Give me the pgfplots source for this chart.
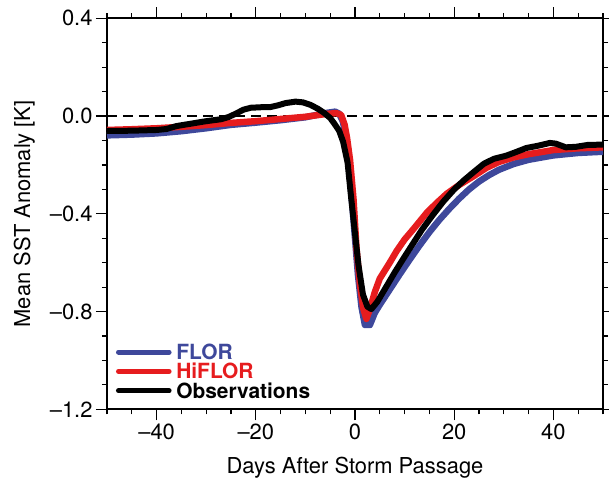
\documentclass[border=0pt]{standalone}
\usepackage{pgfplots}
\pgfplotsset{compat=1.18}
\usepackage{fontspec}
\setmainfont{TeX Gyre Heros}
\definecolor{florblue}{RGB}{62,72,155}
\definecolor{hiflorred}{RGB}{230,28,30}
\begin{document}
\begin{tikzpicture}
\begin{axis}[
  name=ax,
  scale only axis,
  width=496bp, height=391bp,
  xmin=-50, xmax=50, ymin=-1.2, ymax=0.4,
  axis line style={line width=2.2bp},
  tick align=outside,
  xtick pos=both, ytick pos=both,
  xtick={-40,-20,0,20,40},
  xticklabels={--40,--20,0,20,40},
  ytick={-1.2,-0.8,-0.4,0,0.4},
  yticklabels={--1.2,--0.8,--0.4,0.0,0.4},
  minor xtick={-50,-45,-35,-30,-25,-15,-10,-5,5,10,15,25,30,35,45,50},
  minor ytick={-1.1,-1.0,-0.9,-0.7,-0.6,-0.5,-0.3,-0.2,-0.1,0.1,0.2,0.3},
  major tick length=11bp,
  minor tick length=5bp,
  tick style={line width=1.2bp, black},
  font=\fontsize{22}{25}\selectfont,
  xlabel={Days After Storm Passage},
  ylabel={Mean SST Anomaly [K]},
  xlabel shift=11bp,
  ylabel shift=8bp,
  legend style={
    at={(0,0)}, anchor=south west, xshift=9bp, yshift=11bp,
    draw=none, fill=none, inner sep=0pt, outer sep=0pt,
    row sep=4.4bp, column sep=4.7bp,
    font=\fontsize{21}{24}\selectfont\bfseries,
    nodes={inner sep=0pt, text height=15bp, text depth=0pt},
  },
  legend cell align=left,
  legend image code/.code={\draw[#1, line width=5bp, line cap=round] (0bp,0bp) -- (50.6bp,0bp);},
]
\addplot[black, line width=1.3bp, dash pattern=on 10bp off 6bp, forget plot] coordinates {(-50,0) (50,0)};
\addplot[florblue, line width=6.5bp, line join=round] coordinates {
(-50,-0.079) (-45,-0.076) (-40,-0.071) (-35,-0.062) (-30,-0.050) (-25,-0.036) (-20,-0.027) (-15,-0.017) (-10,-0.005) (-6,0.012) (-4,0.018) (-3.2,0.010) (-2.5,-0.020) (-1.8,-0.080) (-1.2,-0.200) (-0.6,-0.350) (0,-0.500) (0.6,-0.650) (1.3,-0.780) (2,-0.855) (3,-0.855) (4,-0.805) (5,-0.772) (7,-0.710) (9,-0.648) (11,-0.588) (13,-0.530) (15,-0.475) (17,-0.425) (19,-0.380) (21,-0.338) (23,-0.300) (25,-0.268) (27,-0.242) (29,-0.220) (32,-0.196) (35,-0.179) (40,-0.161) (45,-0.151) (50,-0.146)
};
\addlegendentry{\textcolor{florblue}{FLOR}}
\addplot[hiflorred, line width=6.5bp, line join=round] coordinates {
(-50,-0.057) (-45,-0.054) (-40,-0.050) (-35,-0.044) (-30,-0.037) (-25,-0.028) (-20,-0.021) (-15,-0.012) (-10,-0.003) (-6,0.008) (-3.8,0.012) (-2.8,0.005) (-2.1,-0.035) (-1.6,-0.090) (-1.0,-0.180) (-0.3,-0.340) (0.3,-0.540) (1,-0.690) (1.7,-0.790) (2.3,-0.830) (3,-0.790) (4,-0.720) (5,-0.665) (7,-0.600) (8.4,-0.552) (10,-0.505) (11.8,-0.462) (14.5,-0.395) (16.5,-0.355) (18.5,-0.318) (21,-0.282) (24,-0.245) (26.5,-0.212) (29,-0.188) (32,-0.169) (35,-0.156) (40,-0.139) (45,-0.132) (50,-0.128)
};
\addlegendentry{\textcolor{hiflorred}{HiFLOR}}
\addplot[black, line width=6bp, line join=round] coordinates {
(-50,-0.061) (-45,-0.060) (-40,-0.057) (-38,-0.053) (-36,-0.041) (-33,-0.031) (-30,-0.021) (-27,-0.013) (-25.5,-0.004) (-24,0.010) (-22.5,0.026) (-21,0.034) (-19,0.036) (-17,0.037) (-15.5,0.044) (-14,0.053) (-12,0.059) (-10.5,0.056) (-9,0.046) (-7.5,0.030) (-6.3,0.014) (-5,-0.008) (-4.2,-0.030) (-3.2,-0.060) (-2.4,-0.105) (-1.5,-0.190) (-0.8,-0.330) (0,-0.480) (0.7,-0.610) (1.6,-0.730) (2.5,-0.780) (3.3,-0.790) (4.5,-0.760) (6.4,-0.695) (8,-0.640) (9.7,-0.585) (11.5,-0.528) (13.5,-0.465) (15.5,-0.410) (17.8,-0.350) (20,-0.300) (22,-0.262) (24,-0.228) (26,-0.195) (28,-0.175) (30.5,-0.162) (32.5,-0.147) (34.5,-0.131) (37,-0.121) (39.3,-0.110) (40.5,-0.113) (42.5,-0.128) (44.5,-0.126) (47,-0.118) (50,-0.117)
};
\addlegendentry{Observations}
\end{axis}
\pgfresetboundingbox
\path (ax.south west) ++(-107bp,-72.7bp) rectangle ++(609bp,482bp);
\end{tikzpicture}
\end{document}
